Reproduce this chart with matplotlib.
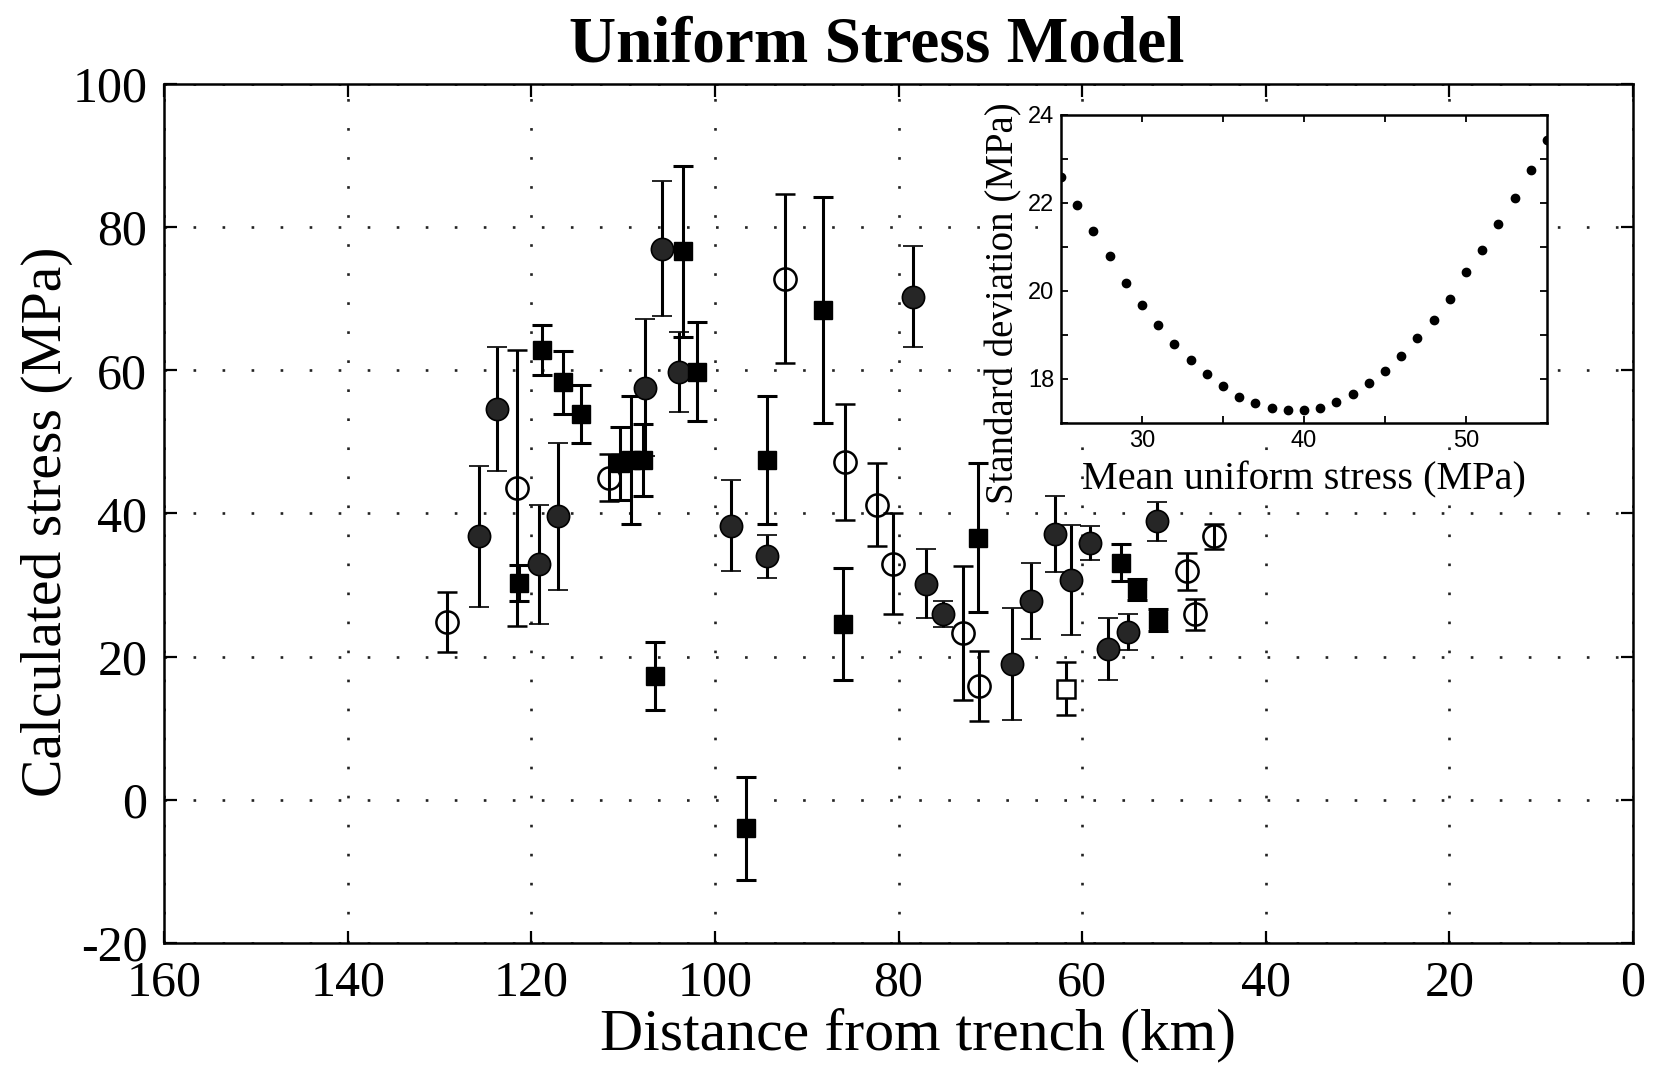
import matplotlib
matplotlib.use("Agg")
import matplotlib.pyplot as plt
import numpy as np

# main panel: distance from trench (km), stress (MPa), error (MPa)
fc_dist = [125.7, 123.7, 119.2, 117.1, 107.6, 105.8, 103.9, 98.2, 94.3, 78.4,
           77.0, 75.2, 67.6, 65.6, 63.0, 61.2, 59.2, 57.2, 55.0, 51.9]
fc_stress = [36.8, 54.6, 32.9, 39.6, 57.6, 77.0, 59.8, 38.3, 34.0, 70.3,
             30.2, 26.0, 19.0, 27.8, 37.1, 30.7, 35.9, 21.1, 23.5, 38.9]
fc_err = [9.9, 8.7, 8.3, 10.3, 9.6, 9.4, 5.6, 6.4, 3.0, 7.0,
          4.8, 1.8, 7.8, 5.3, 5.3, 7.7, 2.4, 4.3, 2.5, 2.7]

fs_dist = [121.3, 118.8, 116.6, 114.6, 110.3, 109.1, 107.8, 106.5, 103.5, 102.0,
           96.6, 94.3, 88.2, 86.0, 71.4, 55.8, 54.0, 51.7]
fs_stress = [30.3, 62.8, 58.3, 53.9, 47.0, 47.5, 47.5, 17.3, 76.6, 59.8,
             -4.0, 47.5, 68.4, 24.6, 36.6, 33.1, 29.4, 25.1]
fs_err = [2.5, 3.5, 4.4, 4.1, 5.1, 8.9, 5.0, 4.8, 12.0, 6.9,
          7.2, 8.9, 15.8, 7.8, 10.4, 2.6, 1.5, 1.5]

oc_dist = [129.2, 121.6, 111.5, 92.4, 85.8, 82.3, 80.6, 73.0, 71.2, 48.6, 47.7, 45.6]
oc_stress = [24.8, 43.6, 45.0, 72.8, 47.2, 41.2, 33.0, 23.3, 15.9, 31.9, 25.9, 36.8]
oc_err = [4.2, 19.3, 3.3, 11.8, 8.1, 5.8, 7.0, 9.3, 4.9, 2.6, 2.2, 1.8]

os_dist = [61.8]
os_stress = [15.5]
os_err = [3.7]

# inset: mean uniform stress vs standard deviation
mean_stress = list(range(25, 56))
std_dev = [22.58, 21.95, 21.36, 20.80, 20.19, 19.67, 19.22, 18.80, 18.43, 18.11,
           17.83, 17.60, 17.45, 17.33, 17.30, 17.30, 17.35, 17.47, 17.66, 17.90,
           18.19, 18.53, 18.92, 19.34, 19.81, 20.42, 20.93, 21.52, 22.11, 22.75,
           23.43]

serif = ["Liberation Serif", "DejaVu Serif"]
sans = ["Liberation Sans", "DejaVu Sans"]
plt.rcParams["axes.unicode_minus"] = False

fig = plt.figure(figsize=(16.62, 10.70), dpi=100)
ax = fig.add_axes([0.0987, 0.1187, 0.8839, 0.8028])

eb = dict(ecolor="black", elinewidth=2.2, capsize=7, capthick=2.2, linestyle="none")
ax.errorbar(fc_dist, fc_stress, yerr=fc_err, fmt="o", ms=16, mfc="#262626",
            mec="black", mew=1.2, zorder=3, **eb)
ax.errorbar(fs_dist, fs_stress, yerr=fs_err, fmt="s", ms=13, mfc="black",
            mec="black", zorder=3, **eb)
ax.errorbar(oc_dist, oc_stress, yerr=oc_err, fmt="o", ms=16, mfc="none",
            mec="black", mew=1.8, zorder=3, **eb)
ax.errorbar(os_dist, os_stress, yerr=os_err, fmt="s", ms=13, mfc="white",
            mec="black", mew=1.8, zorder=3, **eb)

ax.set_xlim(160, 0)
ax.set_ylim(-20, 100)
ax.set_xticks(np.arange(0, 161, 20))
ax.set_yticks(np.arange(-20, 101, 20))
ax.grid(True, color="#222222", linestyle=(0, (1, 10)), linewidth=1.9)
ax.tick_params(direction="in", length=9, width=1.6, top=True, right=True,
               labelsize=36, pad=12)
for lab in ax.get_xticklabels() + ax.get_yticklabels():
    lab.set_family(serif)
for s in ax.spines.values():
    s.set_linewidth(1.8)

ax.set_xlabel("Distance from trench (km)", family=serif, fontsize=43)
ax.xaxis.set_label_coords(0.513, -0.075)
ax.set_ylabel("Calculated stress (MPa)", family=serif, fontsize=41.5)
ax.yaxis.set_label_coords(-0.062, 0.49)
ax.set_title("Uniform Stress Model", family=serif, fontsize=47, fontweight="bold",
             x=0.485, pad=16)

# inset
ax_in = fig.add_axes([0.6384, 0.6047, 0.2924, 0.2879])
ax_in.set_facecolor("white")
ax_in.plot(mean_stress, std_dev, "o", color="black", ms=6)
ax_in.set_xlim(25, 55)
ax_in.set_ylim(17, 24)
ax_in.set_xticks(np.arange(30, 51, 5))
ax_in.set_xticklabels(["30", "", "40", "", "50"])
ax_in.set_yticks(np.arange(17, 25, 1))
ax_in.set_yticklabels(["", "18", "", "20", "", "22", "", "24"])
ax_in.tick_params(direction="in", length=5, width=1.3, top=True, right=True,
                  labelsize=17, pad=5)
for lab in ax_in.get_xticklabels() + ax_in.get_yticklabels():
    lab.set_family(sans)
for s in ax_in.spines.values():
    s.set_linewidth(1.8)
ax_in.set_xlabel("Mean uniform stress (MPa)", family=serif, fontsize=29, labelpad=7)
ax_in.set_ylabel("Standard deviation (MPa)", family=serif, fontsize=28)
ax_in.yaxis.set_label_coords(-0.08, 0.39)

fig.savefig("out.png", dpi=100)
